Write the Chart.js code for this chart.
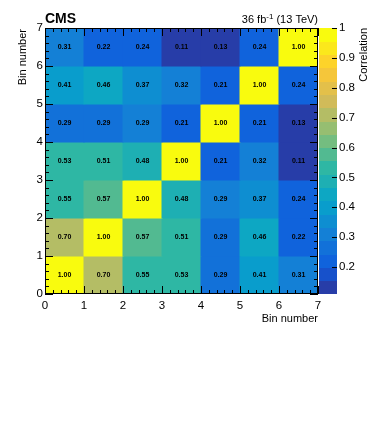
<!DOCTYPE html>
<html>
<head>
<meta charset="utf-8">
<script src="https://cdn.jsdelivr.net/npm/chart.js@4.4.1/dist/chart.umd.min.js"></script>
<style>
  html, body { margin: 0; padding: 0; background: #fff; }
  #wrap { width: 374px; height: 421px; }
</style>
</head>
<body>
<div id="wrap"><canvas id="corrChart" width="374" height="421"></canvas></div>
<script>
// correlation matrix, one array per y bin (bottom to top)
// third decimal, text shows 2 decimals
const row0 = [1.00, 0.70, 0.55, 0.53, 0.287, 0.41, 0.31];
const row1 = [0.70, 1.00, 0.57, 0.512, 0.287, 0.46, 0.22];
const row2 = [0.55, 0.57, 1.00, 0.48, 0.292, 0.37, 0.24];
const row3 = [0.53, 0.512, 0.48, 1.00, 0.21, 0.32, 0.11];
const row4 = [0.287, 0.287, 0.292, 0.21, 1.00, 0.21, 0.13];
const row5 = [0.41, 0.46, 0.37, 0.32, 0.21, 1.00, 0.24];
const row6 = [0.31, 0.22, 0.24, 0.11, 0.13, 0.24, 1.00];
const corrRows = [row0, row1, row2, row3, row4, row5, row6];

const binEdges = [0, 1, 2, 3, 4, 5, 6, 7];
const zTicks = [0.2, 0.3, 0.4, 0.5, 0.6, 0.7, 0.8, 0.9, 1.0];
const zMin = 0.11;
const zMax = 1.0;
const nContours = 20;

// ROOT kBird palette
const birdStops = [0.0, 0.125, 0.25, 0.375, 0.5, 0.625, 0.75, 0.875, 1.0];
const birdR = [0.2082, 0.0592, 0.0780, 0.0232, 0.1802, 0.5301, 0.8186, 0.9956, 0.9764];
const birdG = [0.1664, 0.3599, 0.5041, 0.6419, 0.7178, 0.7492, 0.7328, 0.7862, 0.9832];
const birdB = [0.5293, 0.8684, 0.8385, 0.7914, 0.6425, 0.4662, 0.3499, 0.1968, 0.0539];

function birdColor(f) {
    let k = 0;
    while (k < birdStops.length - 2 && f > birdStops[k + 1]) k++;
    const t = (f - birdStops[k]) / (birdStops[k + 1] - birdStops[k]);
    const c = arr => Math.round(255 * (arr[k] + (arr[k + 1] - arr[k]) * t));
    return `rgb(${c(birdR)}, ${c(birdG)}, ${c(birdB)})`;
}

// same as ROOT: contour index -> palette colour
function bandColor(i) {
    const idx = Math.floor((i + 0.99) * 255 / nContours);
    return birdColor(Math.min(idx, 254) / 254);
}

function colorFor(v) {
    let i = Math.floor((v - zMin) / ((zMax - zMin) / nContours) + 1e-6);
    i = Math.max(0, Math.min(nContours - 1, i));
    return bandColor(i);
}

// floating bars, one per cell
const cells = [];
corrRows.forEach((row, j) => {
    row.forEach((v, i) => {
        cells.push({ x: binEdges[i] + 0.5, y: [binEdges[j], binEdges[j + 1]], v: v });
    });
});

const FONT = "'Liberation Sans', Arial, Helvetica, sans-serif";

// ROOT style decorations: ticks inside frame, colour bar, labels
const rootDecor = {
    id: "rootDecor",
    afterDatasetsDraw(chart) {
        const ctx = chart.ctx;
        const area = chart.chartArea;
        const xs = chart.scales.x, ys = chart.scales.y, zs = chart.scales.z;

        // cell text
        const meta = chart.getDatasetMeta(0);
        ctx.save();
        ctx.fillStyle = "#000";
        ctx.font = "bold 7px " + FONT;
        ctx.textAlign = "center";
        ctx.textBaseline = "middle";
        meta.data.forEach((el, k) => {
            const yc = (el.y + el.base) / 2;
            ctx.fillText(cells[k].v.toFixed(2), el.x, yc + 0.5);
        });
        ctx.restore();

        // frame + ticks
        ctx.save();
        ctx.strokeStyle = "#000";
        ctx.lineWidth = 1;
        ctx.strokeRect(area.left + 0.5, area.top + 0.5, area.right - area.left - 1, area.bottom - area.top - 1);
        ctx.beginPath();
        for (let t = 0; t <= 7.0001; t += 0.2) {
            const major = Math.abs(t - Math.round(t)) < 1e-6;
            const len = major ? 8 : 4;
            const px = Math.round(xs.getPixelForValue(t)) + 0.5;
            ctx.moveTo(px, area.bottom); ctx.lineTo(px, area.bottom - len);
            ctx.moveTo(px, area.top); ctx.lineTo(px, area.top + len);
            const py = Math.round(ys.getPixelForValue(t)) + 0.5;
            ctx.moveTo(area.left, py); ctx.lineTo(area.left + len, py);
            ctx.moveTo(area.right, py); ctx.lineTo(area.right - len, py);
        }
        ctx.stroke();
        ctx.restore();

        // colour bar
        const cbL = area.right + 1, cbR = area.right + 19;
        const dz = (zMax - zMin) / nContours;
        ctx.save();
        for (let i = 0; i < nContours; i++) {
            const yTop = zs.getPixelForValue(zMin + (i + 1) * dz);
            const yBot = zs.getPixelForValue(zMin + i * dz);
            ctx.fillStyle = bandColor(i);
            ctx.fillRect(cbL, Math.floor(yTop), cbR - cbL, Math.ceil(yBot) - Math.floor(yTop));
        }
        ctx.strokeStyle = "#000";
        ctx.beginPath();
        zTicks.forEach(t => {
            const py = Math.round(zs.getPixelForValue(t)) + 0.5;
            ctx.moveTo(cbR - 5, py); ctx.lineTo(cbR, py);
        });
        ctx.stroke();
        ctx.restore();
    },
    afterDraw(chart) {
        const ctx = chart.ctx;
        const area = chart.chartArea;
        ctx.save();
        ctx.fillStyle = "#000";
        ctx.textBaseline = "alphabetic";

        ctx.font = "bold 14px " + FONT;
        ctx.textAlign = "left";
        ctx.fillText("CMS", area.left, 23);

        // 36 fb^-1 (13 TeV)
        ctx.font = "11px " + FONT;
        const tail = " (13 TeV)";
        ctx.textAlign = "right";
        ctx.fillText(tail, area.right, 23);
        let x = area.right - ctx.measureText(tail).width;
        ctx.font = "8px " + FONT;
        ctx.fillText("-1", x, 19);
        x -= ctx.measureText("-1").width;
        ctx.font = "11px " + FONT;
        ctx.fillText("36 fb", x, 23);

        // axis titles
        ctx.font = "11px " + FONT;
        ctx.textAlign = "right";
        ctx.textBaseline = "middle";
        ctx.fillText("Bin number", area.right, 319);

        ctx.save();
        ctx.translate(23, area.top + 1);
        ctx.rotate(-Math.PI / 2);
        ctx.fillText("Bin number", 0, 0);
        ctx.restore();

        ctx.save();
        ctx.translate(364, area.top);
        ctx.rotate(-Math.PI / 2);
        ctx.fillText("Correlation", 0, 0);
        ctx.restore();

        ctx.restore();
    }
};

function createCorrChart() {
    const ctx = document.getElementById("corrChart").getContext("2d");
    window.corrChart = new Chart(ctx, {
        type: "bar",
        data: {
            datasets: [{
                label: "Correlation",
                data: cells,
                backgroundColor: c => colorFor(c.raw ? c.raw.v : 0),
                borderWidth: 0,
                barPercentage: 1.0,
                categoryPercentage: 1.0,
                inflateAmount: 0.5,
                grouped: false,
                yAxisID: "y"
            }]
        },
        options: {
            responsive: false,
            animation: false,
            devicePixelRatio: 1,
            layout: { padding: { top: 28, left: 0, right: 0, bottom: 0 } },
            plugins: {
                legend: { display: false },
                tooltip: { enabled: false }
            },
            scales: {
                x: {
                    type: "linear",
                    offset: false,
                    min: 0, max: 7,
                    grid: { display: false, drawTicks: false },
                    border: { display: false },
                    ticks: { stepSize: 1, color: "#000", padding: 5, font: { family: FONT, size: 11.5 } },
                    afterFit: s => { s.height = 127; }
                },
                y: {
                    type: "linear",
                    min: 0, max: 7,
                    grid: { display: false, drawTicks: false },
                    border: { display: false },
                    ticks: { stepSize: 1, color: "#000", padding: 2, font: { family: FONT, size: 11.5 } },
                    afterFit: s => { s.width = 45; }
                },
                z: {
                    type: "linear",
                    position: "right",
                    min: zMin, max: zMax,
                    grid: { display: false, drawTicks: false },
                    border: { display: false },
                    ticks: {
                        stepSize: 0.1,
                        includeBounds: false,
                        color: "#000",
                        padding: 21,
                        font: { family: FONT, size: 11.5 },
                        callback: v => String(+v.toFixed(1))
                    },
                    afterFit: s => { s.width = 56; }
                }
            }
        },
        plugins: [rootDecor]
    });
}

document.addEventListener("DOMContentLoaded", () => {
    createCorrChart();
});
</script>
</body>
</html>
